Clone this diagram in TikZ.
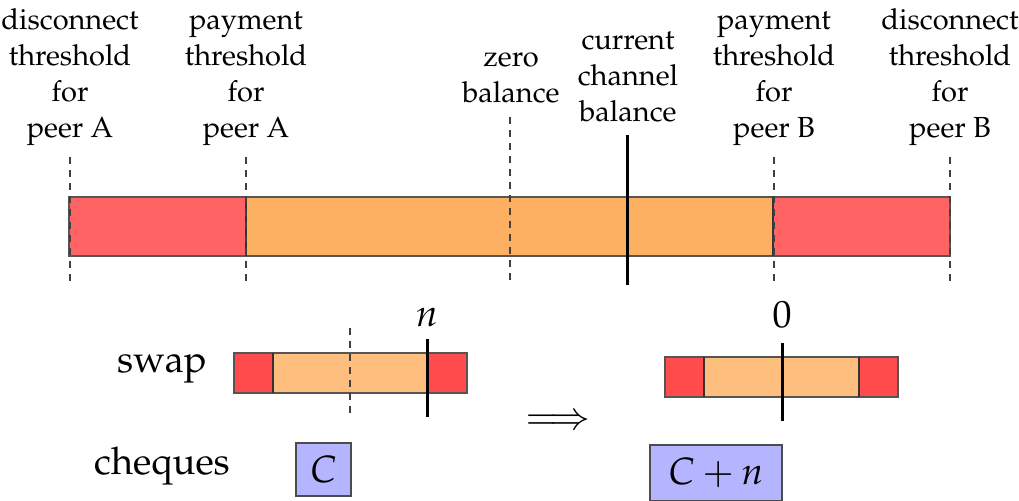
\documentclass[tikz,border=0pt]{standalone}
\usepackage{amsmath, amssymb}
\usepackage[T1]{fontenc}
\usepackage{mathpazo}
\usepackage{tikz}
\definecolor{redzone}{RGB}{255,99,99}
\definecolor{okzone}{RGB}{253,176,98}
\definecolor{redzonesm}{RGB}{255,75,75}
\definecolor{okzonesm}{RGB}{254,190,125}
\definecolor{chequeblue}{RGB}{180,180,255}
\definecolor{barline}{RGB}{85,85,85}
% channel bar: x0, x1, x2, x3, ytop, ybot, red colour, middle colour
\newcommand{\chanbar}[8]{%
  \fill[#7] (#1,#5) rectangle (#2,#6);%
  \fill[#8] (#2,#5) rectangle (#3,#6);%
  \fill[#7] (#3,#5) rectangle (#4,#6);%
  \draw[barline,line width=0.8pt] (#1,#5) rectangle (#4,#6);%
  \draw[barline!60!black,line width=0.8pt] (#2,#5)--(#2,#6) (#3,#5)--(#3,#6);%
}
\tikzset{
  toplabel/.style={align=center,font=\fontsize{14.5}{18}\selectfont,inner sep=0pt},
  biglabel/.style={font=\fontsize{19}{23}\selectfont,inner sep=0pt},
  thresh/.style={dash pattern=on 3.5pt off 3pt,line width=0.7pt,black!75},
  balline/.style={line width=1.5pt},
  cheque/.style={draw=black!70,fill=chequeblue,line width=0.6pt,font=\fontsize{19}{23}\selectfont}
}

\begin{document}
\begin{tikzpicture}[x=0.5pt,y=-0.5pt]
  \useasboundingbox (0,0) rectangle (1019,500);
  % the channel
  \chanbar{69}{246}{773}{950}{197}{256}{redzone}{okzone}
  \foreach \x/\nm/\txt in {70/disA/{disconnect\\threshold\\for\\peer A},
      246/payA/{payment\\threshold\\for\\peer A},
      774/payB/{payment\\threshold\\for\\peer B},
      950/disB/{disconnect\\threshold\\for\\peer B}}{
    \node[toplabel,anchor=south] (\nm) at (\x,146) {\txt};
    \draw[thresh] (\x,157)--(\x,283);
  }
  \node[toplabel,anchor=south] (zero) at (511,104) {zero\\balance};
  \draw[thresh] (510,117)--(510,283);
  \node[toplabel,anchor=south] (cur) at (628,123) {current\\channel\\balance};
  \draw[balline] (627,135)--(627,285);

  % swap before
  \node[biglabel] (swap) at (162,369) {swap};
  \chanbar{234}{273}{427}{467}{353}{393}{redzonesm}{okzonesm}
  \draw[thresh] (350,328)--(350,417);
  \draw[balline] (427,339)--(427,417);
  \node[biglabel] (nlab) at (427,317) {$n$};
  \node[biglabel] (imp) at (558,422) {$\Longrightarrow$};

  % swap after
  \chanbar{665}{704}{859}{898}{357}{397}{redzonesm}{okzonesm}
  \draw[balline] (782,343)--(782,421);
  \node[biglabel] (zlab) at (782,315) {$0$};

  % cheques
  \node[biglabel] (chq) at (162,466) {cheques};
  \node[cheque,minimum width=27.5pt,minimum height=26.5pt] (cA) at (323.5,469.5) {$C$};
  \node[cheque,minimum width=66pt,minimum height=28pt] (cB) at (716,473) {$C+n$};
\end{tikzpicture}
\end{document}
